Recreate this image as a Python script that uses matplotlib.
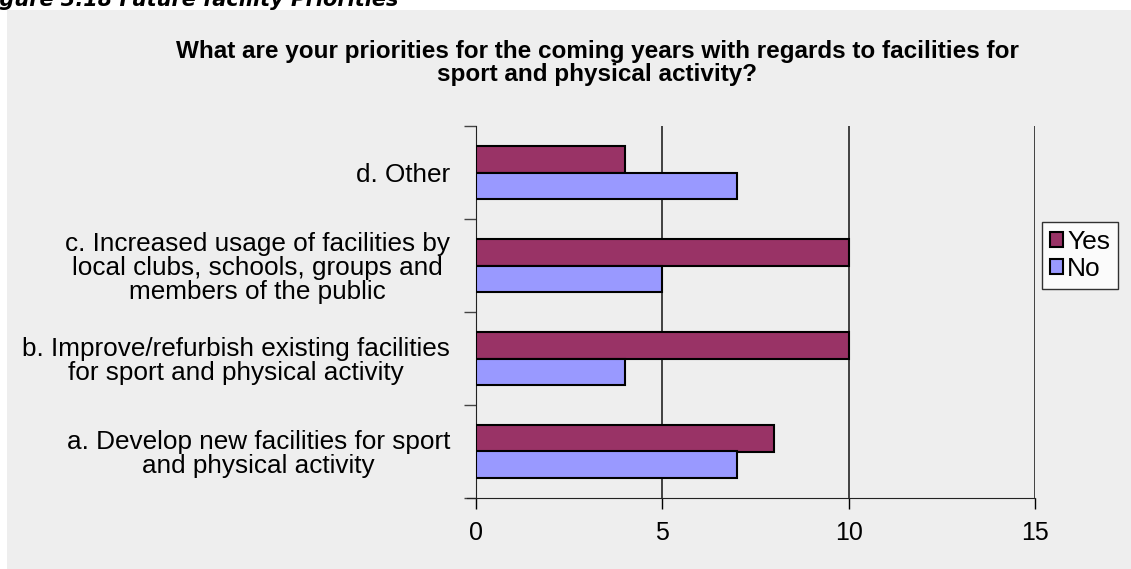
import numpy as np
import matplotlib.pyplot as plt
from matplotlib.patches import Rectangle

categories = [
    "a. Develop new facilities for sport\nand physical activity",
    "b. Improve/refurbish existing facilities\nfor sport and physical activity",
    "c. Increased usage of facilities by\nlocal clubs, schools, groups and\nmembers of the public",
    "d. Other",
]
yes_counts = [8, 10, 10, 4]
no_counts = [7, 4, 5, 7]
x_ticks = [0, 5, 10, 15]

plt.rcParams["font.family"] = ["Liberation Sans", "DejaVu Sans"]

W, H = 1131, 569
fig = plt.figure(figsize=(W / 100, H / 100), dpi=100)
fig.patch.set_facecolor("white")

# grey chart area
fig.patches.append(Rectangle((7 / W, 0), 1 - 7 / W, 1 - 10 / H,
                             transform=fig.transFigure, facecolor="#eeeeee",
                             edgecolor="none", zorder=-2))
fig.text(398 / W, 1 - 6 / H, "Figure 3.18 Future facility Priorities",
         ha="right", va="baseline", fontsize=15, fontweight="bold",
         fontstyle="italic", family="DejaVu Sans", zorder=-1)

ax = fig.add_axes([476 / W, 1 - 498 / H, (1035 - 476) / W, (498 - 126) / H])
ax.set_facecolor("none")
ax.set_zorder(2)

y = np.arange(len(categories))
h = 0.28
ax.barh(y + h / 2, yes_counts, height=h, color="#993366", edgecolor="black",
        linewidth=1.5, label="Yes", zorder=3)
ax.barh(y - h / 2, no_counts, height=h, color="#9999ff", edgecolor="black",
        linewidth=1.5, label="No", zorder=3)

ax.set_xlim(0, 15)
ax.set_ylim(-0.5, len(categories) - 0.5)
ax.set_xticks(x_ticks)
ax.set_xticklabels([str(t) for t in x_ticks], fontsize=18)
ax.set_yticks(y)
ax.set_yticklabels(categories, fontsize=18.8, multialignment="center",
                   linespacing=1.0)
ax.tick_params(axis="y", length=0, pad=18.7)
ax.tick_params(axis="x", length=8, width=1, pad=8.5, color="black")

# category separator ticks on the value axis
ax.set_yticks(np.arange(-0.5, len(categories)), minor=True)
ax.tick_params(axis="y", which="minor", length=9, width=1, color="#444444")

ax.grid(axis="x", color="#333333", linewidth=1.3, zorder=1)
for s in ["top", "right"]:
    ax.spines[s].set_visible(False)
ax.spines["left"].set_color("#222222")
ax.spines["bottom"].set_color("#222222")
ax.spines["bottom"].set_bounds(-0.25, 15)

fig.text(597 / W, 1 - 63 / H,
         "What are your priorities for the coming years with regards to facilities for\nsport and physical activity?",
         ha="center", va="center", fontsize=17.5, fontweight="bold",
         linespacing=0.97)

handles, labels = ax.get_legend_handles_labels()
leg = fig.legend(handles, labels, loc="upper left",
                 bbox_to_anchor=(1042 / W, 1 - 222 / H), fontsize=19,
                 frameon=True, fancybox=False, edgecolor="black",
                 handlelength=0.5, handleheight=0.5, handletextpad=0.15,
                 borderpad=0.3, labelspacing=0.12, borderaxespad=0)
leg.get_frame().set_linewidth(1)

fig.savefig("out.png", dpi=100)
